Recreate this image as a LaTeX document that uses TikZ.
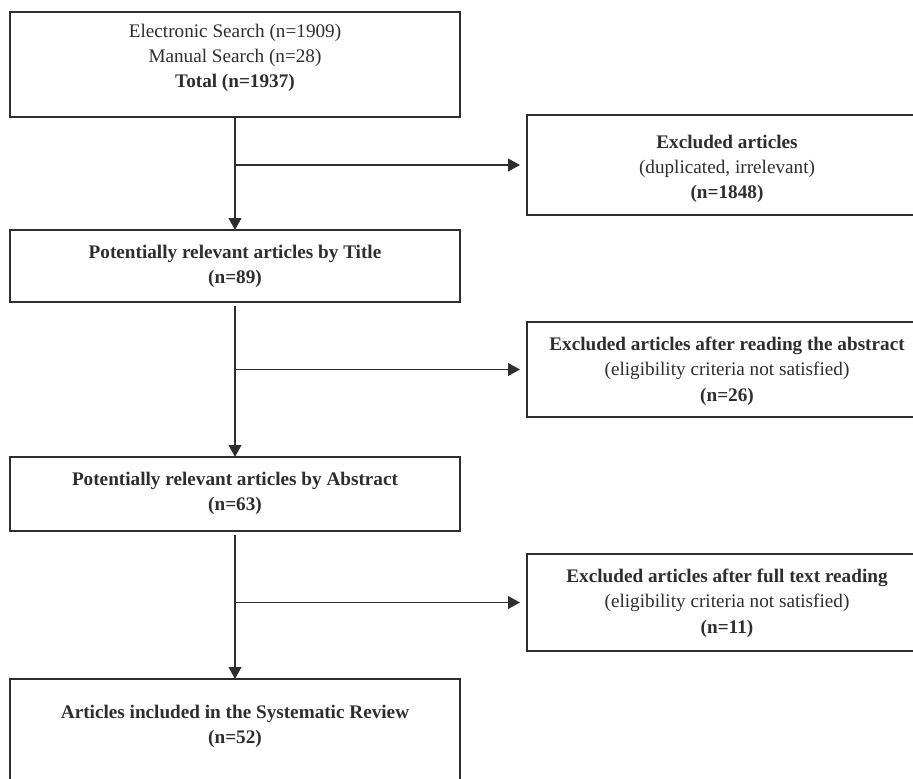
\documentclass[tikz,border=0pt]{standalone}
\usepackage{fontspec}
\setmainfont{Liberation Serif}
\usetikzlibrary{arrows.meta}
\definecolor{ink}{HTML}{2E2E2E}
\begin{document}
\begin{tikzpicture}[x=0.75pt,y=-0.75pt,
  box/.style={draw=ink,line width=1.4pt,minimum width=337.5pt,inner sep=0pt,outer sep=0pt},
  sidebox/.style={draw=ink,line width=1.4pt,minimum width=300pt,inner sep=0pt,outer sep=0pt},
  label/.style={align=center,font=\fontsize{14.4}{19}\selectfont,text=ink,inner sep=0pt},
  flow/.style={draw=ink,line width=1.4pt,-{Triangle[length=9pt,width=9.5pt]}},
]
\useasboundingbox (0,0) rectangle (913,778);
\fill[white] (0,0) rectangle (913,778);
\clip (0,0) rectangle (913,778);

% main column
\node[box,minimum height=78.75pt] (b1) at (235,64.5) {};
\node[box,minimum height=54pt]    (b2) at (235,266) {};
\node[box,minimum height=55.5pt]  (b3) at (235,494) {};
\node[box,minimum height=83.25pt] (b4) at (235,734.5) {};

\node[label] (t1) at (235,58) {Electronic Search (n=1909)\\Manual Search (n=28)\\\textbf{Total (n=1937)}};
\node[label] (t2) at (235,266.5) {\textbf{Potentially relevant articles by Title}\\\textbf{(n=89)}};
\node[label] (t3) at (235,493.5) {\textbf{Potentially relevant articles by Abstract}\\\textbf{(n=63)}};
\node[label] (t4) at (235,726.5) {\textbf{Articles included in the Systematic Review}\\\textbf{(n=52)}};

% exclusion boxes
\node[sidebox,minimum height=75pt]    (e1) at (727,165) {};
\node[sidebox,minimum height=71.25pt] (e2) at (727,369.5) {};
\node[sidebox,minimum height=72.75pt] (e3) at (727,602.5) {};

\node[label] (s1) at (727,169) {\textbf{Excluded articles}\\(duplicated, irrelevant)\\\textbf{(n=1848)}};
\node[label] (s2) at (727,371) {\textbf{Excluded articles after reading the abstract}\\(eligibility criteria not satisfied)\\\textbf{(n=26)}};
\node[label] (s3) at (727,603) {\textbf{Excluded articles after full text reading}\\(eligibility criteria not satisfied)\\\textbf{(n=11)}};

% connectors
\draw[flow] (b1.south) -- (b2.north);
\draw[flow,shorten <=3pt] (b2.south) -- (b3.north);
\draw[flow,shorten <=3pt] (b3.south) -- (b4.north);

\draw[flow,shorten >=5.25pt] (b1.south |- e1.west) -- (e1.west);
\draw[flow,shorten >=5.25pt] (b2.south |- e2.west) -- (e2.west);
\draw[flow,shorten >=5.25pt] (b3.south |- e3.west) -- (e3.west);
\end{tikzpicture}
\end{document}
